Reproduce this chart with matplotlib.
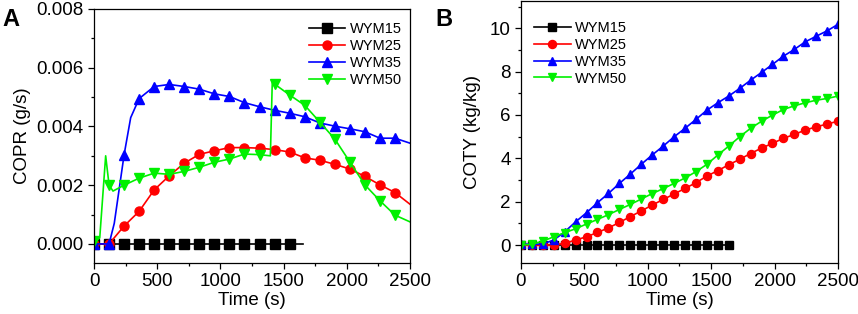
import matplotlib
matplotlib.use("Agg")
from matplotlib import pyplot as plt
from matplotlib.ticker import MultipleLocator

plt.rcParams['font.family'] = ['Liberation Sans', 'DejaVu Sans']

# ---- panel A: COPR (g/s) ----
t15_a = [0, 119, 238, 357, 476, 595, 714, 833, 952, 1071, 1190, 1310, 1429, 1548, 1650]
copr15 = [0] * 15

t25_a = [0, 119, 238, 357, 476, 595, 714, 833, 952, 1071, 1190, 1310, 1429,
         1548, 1667, 1786, 1905, 2024, 2143, 2262, 2381, 2500]
copr25 = [0, 0, 0.00061, 0.00111, 0.00184, 0.00232, 0.00275, 0.00305, 0.00317,
          0.00328, 0.00328, 0.00326, 0.00321, 0.00313, 0.00293, 0.00285, 0.00271,
          0.00255, 0.00230, 0.00201, 0.00175, 0.00135]

t35_a = [0, 119, 160, 200, 238, 290, 357, 476, 595, 714, 833, 952, 1071, 1190,
         1310, 1429, 1548, 1667, 1786, 1905, 2024, 2143, 2262, 2381, 2500]
copr35 = [0, 0, 0.0007, 0.0019, 0.00304, 0.0043, 0.00495, 0.00536, 0.00543,
          0.00536, 0.00527, 0.00511, 0.00502, 0.00481, 0.00467, 0.00455, 0.00445,
          0.00433, 0.00412, 0.00401, 0.00392, 0.00382, 0.00360, 0.00360, 0.00343]

t50_a = [0, 45, 92, 119, 150, 238, 357, 476, 595, 714, 833, 952, 1071, 1190,
         1310, 1395, 1410, 1429, 1548, 1667, 1786, 1905, 2024, 2143, 2262, 2381, 2500]
copr50 = [0.0001, 0.0002, 0.0030, 0.0020, 0.0018, 0.0020, 0.00224, 0.00241,
          0.00237, 0.00247, 0.00261, 0.00278, 0.00289, 0.00306, 0.00304, 0.0030,
          0.0055, 0.00544, 0.00507, 0.00472, 0.00415, 0.00357, 0.00279, 0.00201,
          0.00147, 0.00098, 0.00075]

# ---- panel B: COTY (kg/kg) ----
t_b = [0, 86, 172, 259, 345, 431, 517, 603, 690, 776, 862, 948, 1034, 1121, 1207,
       1293, 1379, 1466, 1552, 1638, 1724, 1810, 1897, 1983, 2069, 2155, 2241,
       2328, 2414, 2500]
t15_b = t_b[:20] + [1650]
coty15 = [0] * 21
coty25 = [0, 0, 0, 0, 0.08, 0.23, 0.38, 0.58, 0.79, 1.04, 1.31, 1.57, 1.84, 2.10,
          2.35, 2.61, 2.87, 3.18, 3.43, 3.70, 3.95, 4.22, 4.47, 4.69, 4.92, 5.10,
          5.30, 5.45, 5.58, 5.71]
coty35 = [0.05, 0.03, 0.05, 0.23, 0.61, 1.07, 1.49, 1.95, 2.38, 2.84, 3.27, 3.72,
          4.15, 4.56, 4.99, 5.38, 5.79, 6.22, 6.56, 6.87, 7.22, 7.60, 7.96, 8.33,
          8.71, 9.02, 9.37, 9.63, 9.88, 10.18]
coty50 = [0, 0.03, 0.18, 0.38, 0.57, 0.75, 0.97, 1.18, 1.40, 1.64, 1.87, 2.12,
          2.37, 2.60, 2.84, 3.09, 3.38, 3.72, 4.15, 4.56, 4.99, 5.38, 5.71, 5.99,
          6.25, 6.42, 6.56, 6.68, 6.76, 6.87]

labels = ['WYM15', 'WYM25', 'WYM35', 'WYM50']
colors = ['#000000', '#ff0000', '#0000ff', '#00f000']
markers = ['s', 'o', '^', 'v']

fig = plt.figure(figsize=(8.58, 3.14), dpi=100)
ax_a = fig.add_axes([0.1096, 0.1624, 0.3683, 0.809])
ax_b = fig.add_axes([0.6072, 0.1624, 0.3695, 0.834])

# marker positions: drop the extra shape points
mk_a = [
    list(range(14)),
    list(range(21)),
    [i for i, t in enumerate(t35_a) if t in t25_a[:21]],
    [i for i, t in enumerate(t50_a) if t in t25_a[:21]],
]
series_a = [(t15_a, copr15), (t25_a, copr25), (t35_a, copr35), (t50_a, copr50)]
for (t, v), lab, c, m, mk in zip(series_a, labels, colors, markers, mk_a):
    ax_a.plot(t, v, '-', color=c, marker=m, markevery=mk, label=lab,
              lw=1.2, markersize=6.5)

series_b = [(t15_b, coty15), (t_b, coty25), (t_b, coty35), (t_b, coty50)]
for (t, v), lab, c, m in zip(series_b, labels, colors, markers):
    mk = list(range(20)) if lab == 'WYM15' else None
    ax_b.plot(t, v, '-', color=c, marker=m, markevery=mk, label=lab,
              lw=1.2, markersize=5.3 if m == 's' else 5.8)

ax_a.set_ylim(-0.00065, 0.008)
ax_a.yaxis.set_major_locator(MultipleLocator(0.002))
ax_a.yaxis.set_minor_locator(MultipleLocator(0.001))
ax_a.yaxis.set_major_formatter(matplotlib.ticker.FormatStrFormatter('%.3f'))
ax_a.set_ylabel('COPR (g/s)', fontsize=13.5, labelpad=4)

ax_b.set_ylim(-0.83, 11.25)
ax_b.yaxis.set_major_locator(MultipleLocator(2))
ax_b.yaxis.set_minor_locator(MultipleLocator(1))
ax_b.set_ylabel('COTY (kg/kg)', fontsize=13.5, labelpad=6)

for ax in (ax_a, ax_b):
    ax.set_xlim(0, 2500)
    ax.xaxis.set_major_locator(MultipleLocator(500))
    ax.xaxis.set_minor_locator(MultipleLocator(250))
    ax.set_xlabel('Time (s)', fontsize=13.5, labelpad=1)
    ax.tick_params(which='both', direction='out', top=False, right=False,
                   labelsize=13.5)
    ax.tick_params(which='major', length=4, width=0.9)
    ax.tick_params(which='minor', length=2.5, width=0.9)
    for s in ax.spines.values():
        s.set_linewidth(0.9)

ax_a.legend(loc='upper right', bbox_to_anchor=(1.015, 1.0), frameon=False,
            fontsize=10.5, handlelength=2.5, labelspacing=0.2, handletextpad=0.3)
ax_b.legend(loc='upper left', bbox_to_anchor=(0.0, 0.975), frameon=False,
            fontsize=10.5, handlelength=2.5, labelspacing=0.2, handletextpad=0.3)

fig.text(0.003, 0.975, 'A', fontsize=17, fontweight='bold', va='top')
fig.text(0.508, 0.975, 'B', fontsize=17, fontweight='bold', va='top')

fig.savefig('out.png', dpi=100)
